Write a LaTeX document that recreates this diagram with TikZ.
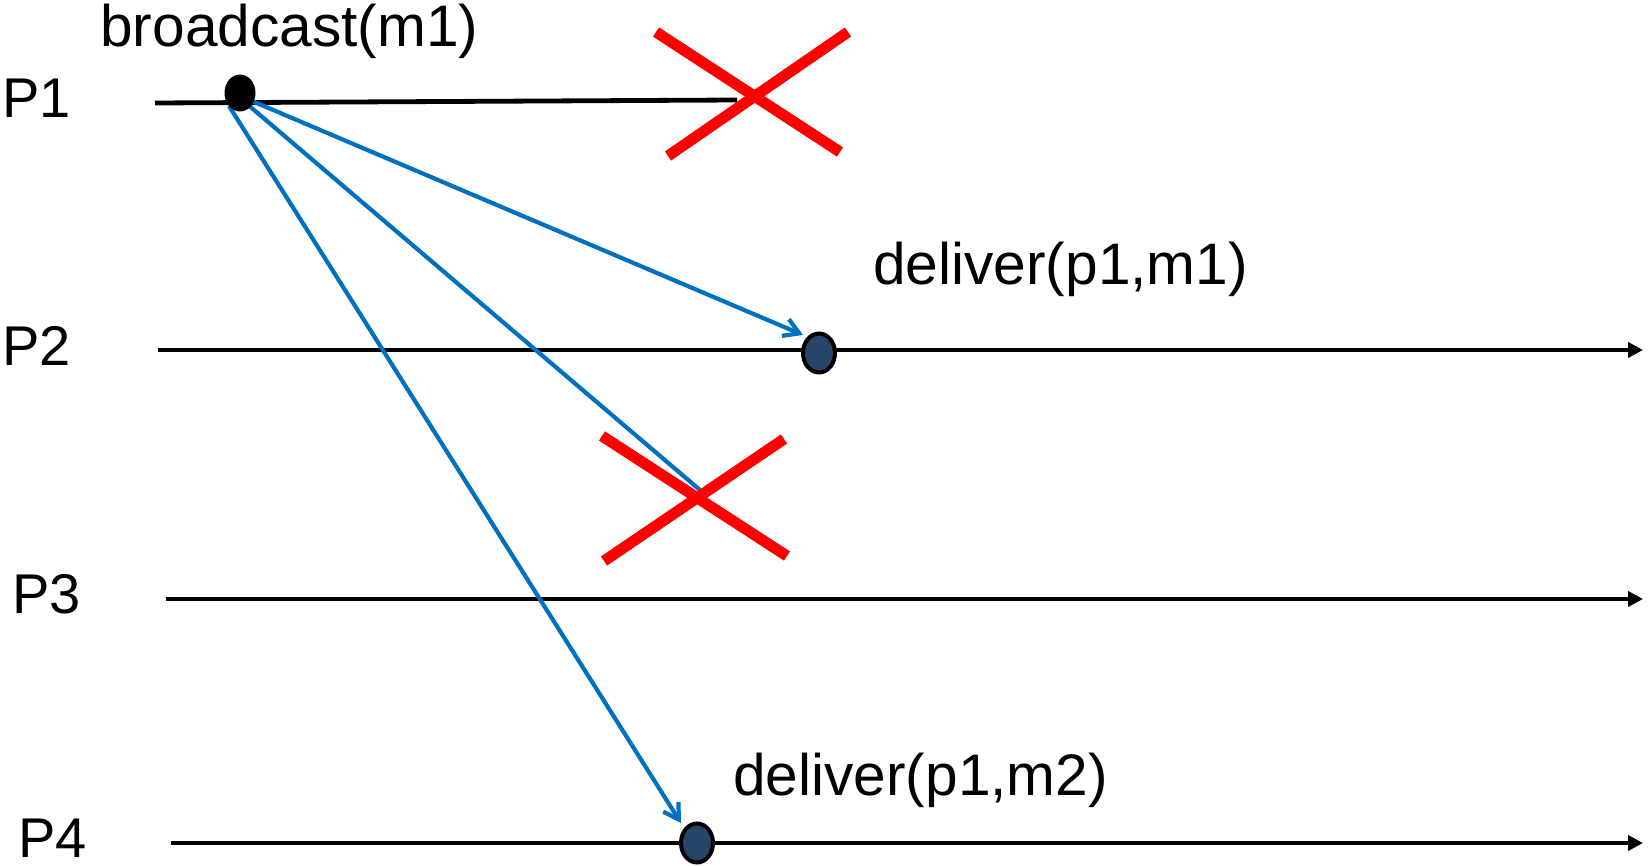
\documentclass[tikz,border=0pt]{standalone}
\usepackage{fontspec}
\setmainfont{Liberation Sans}
\usetikzlibrary{arrows.meta,shapes.geometric}
\definecolor{msgblue}{HTML}{0070C0}
\definecolor{crossred}{HTML}{FF0000}
\definecolor{dotfill}{HTML}{284468}
\tikzset{
  proclabel/.style={anchor=base west, inner sep=0pt, font=\fontsize{28pt}{33pt}\selectfont},
  evlabel/.style={anchor=base west, inner sep=0pt, font=\fontsize{29.3pt}{34pt}\selectfont},
  timeline/.style={line width=2.4pt, black},
  timearrow/.style={timeline, -{Triangle[length=7.5pt,width=7.5pt]}},
  msgline/.style={line width=2.1pt, msgblue},
  message/.style={msgline, -{Straight Barb[length=7.5pt,width=9pt,line width=2.1pt]}},
  crash/.style={line width=5.5pt, crossred},
  sendev/.style={ellipse, fill=black, inner sep=0pt, minimum width=15.5pt, minimum height=18.5pt},
  recvev/.style={ellipse, draw=black, line width=2pt, fill=dotfill, inner sep=0pt, minimum width=16pt, minimum height=19.5pt}
}
\begin{document}
\begin{tikzpicture}[x=0.5pt,y=-0.5pt]
\useasboundingbox (0,0) rectangle (1648,866);

% process names
\node[proclabel] (p1) at (2,118) {P1};
\node[proclabel] (p2) at (2,365) {P2};
\node[proclabel] (p3) at (12,613) {P3};
\node[proclabel] (p4) at (18,857) {P4};

% event labels
\node[evlabel] (bc) at (100,47) {broadcast(m1)};
\node[evlabel] (dl1) at (873,285) {deliver(p1,m1)};
\node[evlabel] (dl2) at (733,795) {deliver(p1,m2)};

% timeline end points
\coordinate (t1s) at (155,103);
\coordinate (t1e) at (737,100);
\coordinate (t2s) at (158,350);
\coordinate (t2e) at (1643,350);
\coordinate (t3s) at (166,599);
\coordinate (t3e) at (1643,599);
\coordinate (t4s) at (171,843);
\coordinate (t4e) at (1643,843);

\draw[timeline] (t1s) -- (t1e);
\draw[timearrow] (t2s) -- (t2e);
\draw[timearrow] (t3s) -- (t3e);
\draw[timearrow] (t4s) -- (t4e);

% message sends leave the broadcast event
\coordinate (s2) at (252,101);
\coordinate (s3) at (247,104);
\coordinate (s4) at (229,106);
\coordinate (r2) at (803,335);
\coordinate (r3) at (700,490);
\coordinate (r4) at (681,823);

\draw[message] (s2) -- (r2);
\draw[msgline] (s3) -- (r3);
\draw[message] (s4) -- (r4);

% events
\node[sendev] (e1) at (240,93) {};
\node[recvev] (e2) at (819,353) {};
\node[recvev] (e4) at (697,843) {};

% crash of P1
\coordinate (c1a) at (656,32);
\coordinate (c1b) at (840,152);
\coordinate (c1c) at (668,156);
\coordinate (c1d) at (848,32);
\draw[crash] (c1a) -- (c1b);
\draw[crash] (c1c) -- (c1d);

% lost message to P3
\coordinate (c2a) at (602,436);
\coordinate (c2b) at (787,556);
\coordinate (c2c) at (604,561);
\coordinate (c2d) at (784,439);
\draw[crash] (c2a) -- (c2b);
\draw[crash] (c2c) -- (c2d);
\end{tikzpicture}
\end{document}
